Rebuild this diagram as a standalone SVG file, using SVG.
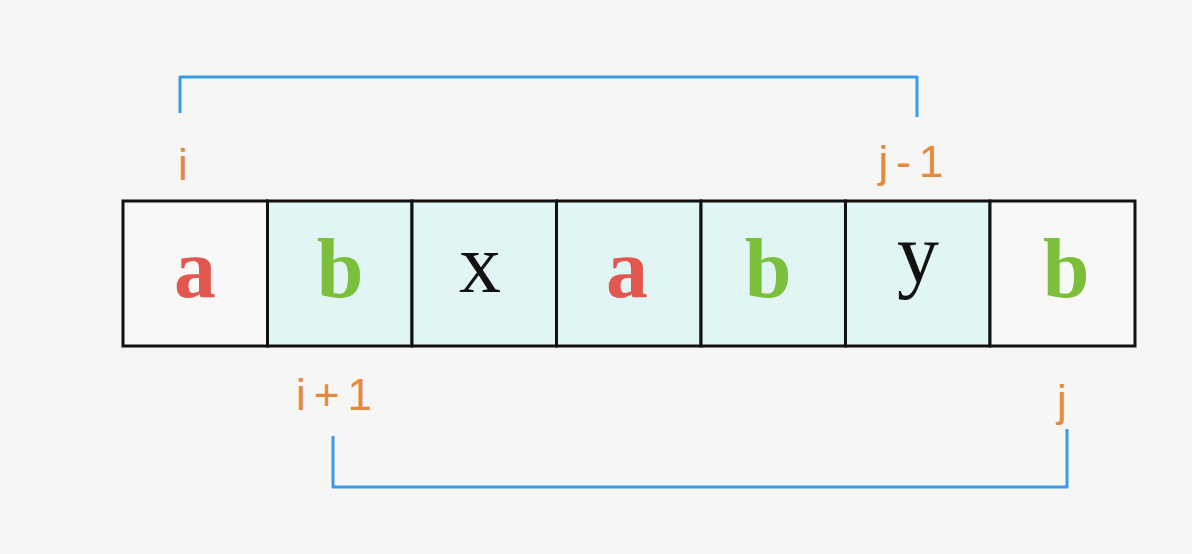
<svg xmlns="http://www.w3.org/2000/svg" width="1192" height="554" viewBox="0 0 1192 554">
<style>
.cell{stroke:#111;stroke-width:3}
.in{fill:#E1F6F4}
.out{fill:#F8F8F6}
.ch{font-family:"Liberation Serif",serif;font-size:84px;font-weight:bold;text-anchor:middle}
.red{fill:#E2574F}
.green{fill:#7CBF3A}
.blk{fill:#111;font-weight:normal}
.lbl{font-family:"Liberation Sans",sans-serif;font-size:44px;fill:#E38A3E;text-anchor:middle;letter-spacing:8px}
.br{fill:none;stroke:#3B9BE8;stroke-width:3;stroke-linejoin:round}
</style>
<rect width="1192" height="554" fill="#F6F6F4"/>
<g id="connectors">
<path class="br" d="M180,113 V77 H917 V117"/>
<path class="br" d="M333,436 V487 H1067 V429"/>
</g>
<g id="cell0"><rect class="cell out" x="123" y="201" width="144.5" height="145"/><text class="ch red" x="195" y="297">a</text></g>
<g id="cell1"><rect class="cell in" x="267.5" y="201" width="144.5" height="145"/><text class="ch green" x="340" y="297">b</text></g>
<g id="cell2"><rect class="cell in" x="412" y="201" width="144.5" height="145"/><text class="ch blk" x="480" y="292">x</text></g>
<g id="cell3"><rect class="cell in" x="556.5" y="201" width="144.5" height="145"/><text class="ch red" x="627" y="297">a</text></g>
<g id="cell4"><rect class="cell in" x="701" y="201" width="144.5" height="145"/><text class="ch green" x="768" y="297">b</text></g>
<g id="cell5"><rect class="cell in" x="845.5" y="201" width="144.5" height="145"/><text class="ch blk" x="918" y="282">y</text></g>
<g id="cell6"><rect class="cell out" x="990" y="201" width="145" height="145"/><text class="ch green" x="1066" y="297">b</text></g>
<g id="labels">
<text class="lbl" x="187" y="180">i</text>
<text class="lbl" x="915" y="177">j-1</text>
<text class="lbl" x="338" y="410">i+1</text>
<text class="lbl" x="1066" y="416">j</text>
</g>
</svg>
